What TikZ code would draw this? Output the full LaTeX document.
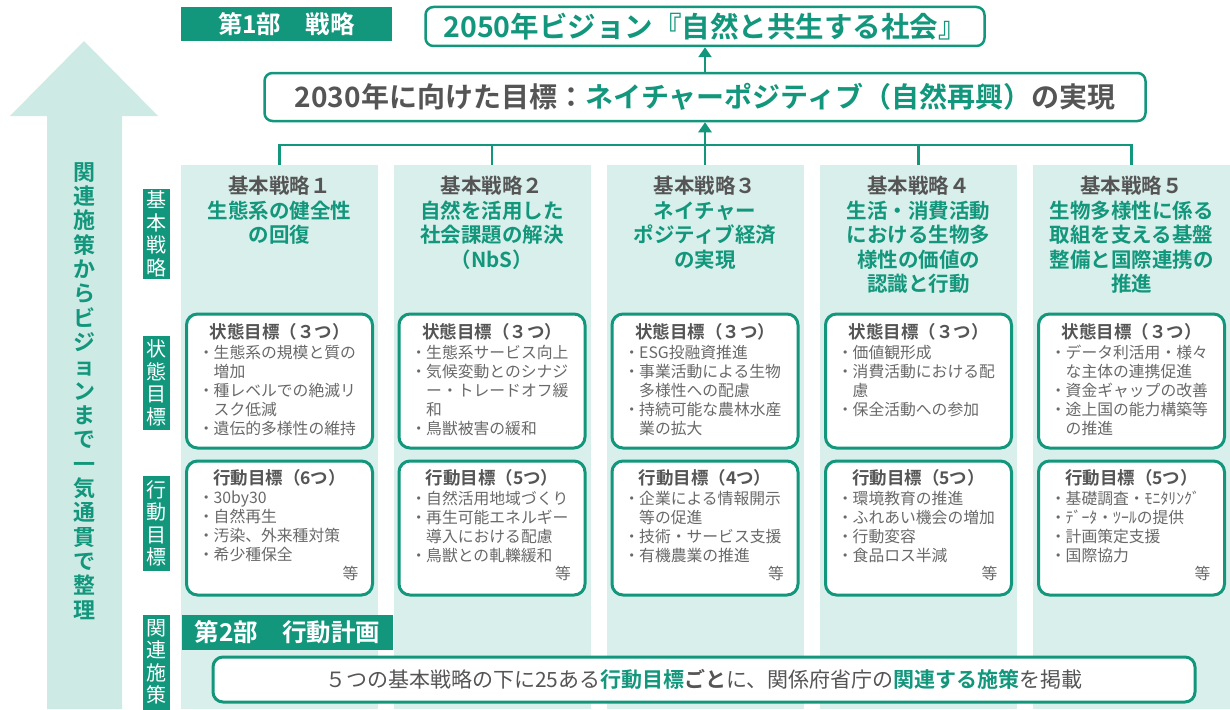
\documentclass[tikz,border=0pt]{standalone}
\usepackage{fontspec}
\setmainfont{Noto Sans CJK JP}[BoldFont={Noto Sans CJK JP Bold}]
\usetikzlibrary{arrows.meta}
\definecolor{tealc}{RGB}{18,150,124}
\definecolor{colbg}{RGB}{217,239,235}
\definecolor{arrbg}{RGB}{206,234,229}
\definecolor{dark}{RGB}{85,85,85}
\definecolor{itemc}{RGB}{105,105,105}
\newcommand\fsz[2]{\fontsize{#1}{#2}\selectfont}
\newcommand\bt{\makebox[15pt][c]{・}}
\newcommand\ind{\hspace*{15pt}}
\begin{document}
\begin{tikzpicture}[x=1pt,y=-1pt,
  colbox/.style={fill=colbg, draw=none, minimum width=197pt, minimum height=544pt, anchor=north, inner sep=0},
  gbox/.style={draw=tealc, line width=3pt, fill=white, rounded corners=11pt, minimum width=186pt, minimum height=134pt, inner sep=0},
  gtitle/.style={font=\fsz{17.5}{20}\bfseries, text=dark, inner sep=0},
  gitems/.style={font=\fsz{15.8}{19}, text=itemc, align=left, inner sep=0, anchor=north west},
  etc/.style={font=\fsz{15.8}{19}, text=itemc, inner sep=0, anchor=east},
  head/.style={font=\fsz{20.5}{24.5}\bfseries, text=tealc, align=center, inner sep=0, anchor=north},
  lab/.style={fill=tealc, text=white, minimum width=27pt, inner sep=0, font=\fsz{20}{22.5}, align=center},
  part/.style={fill=tealc, text=white, font=\fsz{24.5}{27}\bfseries, inner sep=0, minimum width=211pt},
  conn/.style={draw=tealc, line width=2.8pt},
  arr/.style={conn, -{Triangle[width=13pt,length=10pt]}},
  tbox/.style={draw=tealc, line width=2.5pt, fill=white, rounded corners=8pt, inner sep=0},
]
\useasboundingbox (0,0) rectangle (1230,709);
\fill[white] (0,0) rectangle (1230,709);

% big arrow on the left
\fill[arrbg] (84,41) -- (158,116) -- (122,116) -- (122,709) -- (47,709) -- (47,116) -- (10,116) -- cycle;
\node[font=\fsz{22}{24.33}\bfseries, text=tealc, align=center, inner sep=0] (lt) at (84.5,391)
  {関\\連\\施\\策\\か\\ら\\ビ\\ジ\\ョ\\ン\\ま\\で\\一\\気\\通\\貫\\で\\整\\理};

% columns
\node[colbox] (c1) at (279.5,165) {};
\node[colbox] (c2) at (492,165) {};
\node[colbox] (c3) at (705,165) {};
\node[colbox] (c4) at (918.5,165) {};
\node[colbox] (c5) at (1131.5,165) {};

% part labels
\node[part, minimum height=34pt] (p1) at (286.5,24) {第1部　戦略};
\node[part, minimum height=35pt] (p2) at (287.5,632.5) {第2部　行動計画};

% top boxes
\node[tbox, minimum width=559pt, minimum height=39pt] (vis) at (705,26.5)
  {\fsz{28.5}{30}\bfseries\color{tealc}2050年ビジョン『自然と共生する社会』};
\node[tbox, minimum width=881pt, minimum height=48pt] (g30) at (705,97)
  {\fsz{28}{30}\bfseries\color{dark}2030年に向けた目標：\color{tealc}ネイチャーポジティブ（自然再興）\color{dark}の実現};
\draw[arr] (g30.north) -- (vis.south);

% tree
\coordinate (j) at (705,145);
\draw[conn] (c1.north) -- (c1.north |- j) -- (c5.north |- j) -- (c5.north);
\draw[conn] (c2.north) -- (c2.north |- j);
\draw[conn] (c4.north) -- (c4.north |- j);
\draw[arr] (c3.north) -- (g30.south);

% row labels
\node[lab, minimum height=90pt] (l1) at (156.5,234) {基\\本\\戦\\略};
\node[lab, minimum height=94pt] (l2) at (156.5,383) {状\\態\\目\\標};
\node[lab, minimum height=95pt] (l3) at (156.5,523.5) {行\\動\\目\\標};
\node[lab, minimum height=95pt] (l4) at (156.5,662) {関\\連\\施\\策};

% headings
\node[head] (h1) at (279.5,176) {\textcolor{dark}{基本戦略１}\\生態系の健全性\\の回復};
\node[head] (h2) at (492,176) {\textcolor{dark}{基本戦略２}\\自然を活用した\\社会課題の解決\\（NbS）};
\node[head] (h3) at (705,176) {\textcolor{dark}{基本戦略３}\\ネイチャー\\ポジティブ経済\\の実現};
\node[head] (h4) at (918.5,176) {\textcolor{dark}{基本戦略４}\\生活・消費活動\\における生物多\\様性の価値の\\認識と行動};
\node[head] (h5) at (1131.5,176) {\textcolor{dark}{基本戦略５}\\生物多様性に係る\\取組を支える基盤\\整備と国際連携の\\推進};

% state goal boxes
\node[gbox] (s1) at (279.5,381) {};
\node[gbox] (s2) at (492,381) {};
\node[gbox] (s3) at (705,381) {};
\node[gbox] (s4) at (918.5,381) {};
\node[gbox] (s5) at (1131.5,381) {};
\node[gtitle] (st1) at (279.5,332) {状態目標（３つ）};
\node[gtitle] (st2) at (492,332) {状態目標（３つ）};
\node[gtitle] (st3) at (705,332) {状態目標（３つ）};
\node[gtitle] (st4) at (918.5,332) {状態目標（３つ）};
\node[gtitle] (st5) at (1131.5,332) {状態目標（３つ）};
\node[gitems] (si1) at (198.5,345) {\bt 生態系の規模と質の\\\ind 増加\\\bt 種レベルでの絶滅リ\\\ind スク低減\\\bt 遺伝的多様性の維持};
\node[gitems] (si2) at (411,345) {\bt 生態系サービス向上\\\bt 気候変動とのシナジ\\\ind ー・トレードオフ緩\\\ind 和\\\bt 鳥獣被害の緩和};
\node[gitems] (si3) at (624,345) {\bt ESG投融資推進\\\bt 事業活動による生物\\\ind 多様性への配慮\\\bt 持続可能な農林水産\\\ind 業の拡大};
\node[gitems] (si4) at (837.5,345) {\bt 価値観形成\\\bt 消費活動における配\\\ind 慮\\\bt 保全活動への参加};
\node[gitems] (si5) at (1050.5,345) {\bt データ利活用・様々\\\ind な主体の連携促進\\\bt 資金ギャップの改善\\\bt 途上国の能力構築等\\\ind の推進};

% action goal boxes
\node[gbox] (a1) at (279.5,528) {};
\node[gbox] (a2) at (492,528) {};
\node[gbox] (a3) at (705,528) {};
\node[gbox] (a4) at (918.5,528) {};
\node[gbox] (a5) at (1131.5,528) {};
\node[gtitle] (at1) at (279.5,478) {行動目標（6つ）};
\node[gtitle] (at2) at (492,478) {行動目標（5つ）};
\node[gtitle] (at3) at (705,478) {行動目標（4つ）};
\node[gtitle] (at4) at (918.5,478) {行動目標（5つ）};
\node[gtitle] (at5) at (1131.5,478) {行動目標（5つ）};
\node[gitems] (ai1) at (198.5,491) {\bt 30by30\\\bt 自然再生\\\bt 汚染、外来種対策\\\bt 希少種保全};
\node[gitems] (ai2) at (411,491) {\bt 自然活用地域づくり\\\bt 再生可能エネルギー\\\ind 導入における配慮\\\bt 鳥獣との軋轢緩和};
\node[gitems] (ai3) at (624,491) {\bt 企業による情報開示\\\ind 等の促進\\\bt 技術・サービス支援\\\bt 有機農業の推進};
\node[gitems] (ai4) at (837.5,491) {\bt 環境教育の推進\\\bt ふれあい機会の増加\\\bt 行動変容\\\bt 食品ロス半減};
\node[gitems] (ai5) at (1050.5,491) {\bt 基礎調査・ﾓﾆﾀﾘﾝｸﾞ\\\bt ﾃﾞｰﾀ・ﾂｰﾙの提供\\\bt 計画策定支援\\\bt 国際協力};
\node[etc] (e1) at (358.5,573) {等};
\node[etc] (e2) at (571,573) {等};
\node[etc] (e3) at (784,573) {等};
\node[etc] (e4) at (997.5,573) {等};
\node[etc] (e5) at (1210.5,573) {等};

% bottom box
\node[tbox, line width=3pt, rounded corners=10pt, minimum width=982pt, minimum height=45pt] (bb) at (704,679.5)
  {\fsz{21}{23}\color{dark}５つの基本戦略の下に25ある\textbf{\color{tealc}行動目標\color{dark}ごと}に、関係府省庁の\textbf{\color{tealc}関連する施策}を掲載};
\end{tikzpicture}
\end{document}
